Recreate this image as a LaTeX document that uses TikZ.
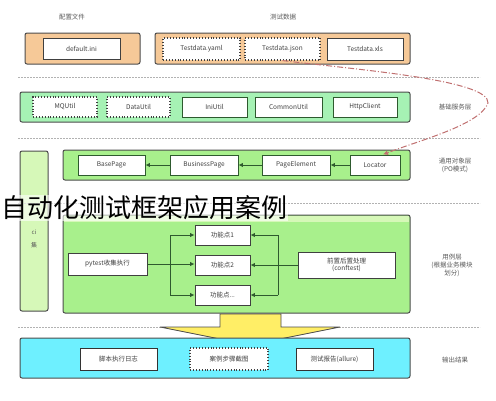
\documentclass[tikz,border=0pt]{standalone}
\usepackage{fontspec}
\setmainfont{Noto Sans CJK SC}
\usetikzlibrary{arrows.meta}
\definecolor{peach}{HTML}{F6C998}
\definecolor{mint}{HTML}{A6F2B4}
\definecolor{lime}{HTML}{A8F08C}
\definecolor{limelight}{HTML}{D6F8B8}
\definecolor{cyanbox}{HTML}{6EF0FF}
\definecolor{yel}{HTML}{FFEE66}
\definecolor{dgreen}{HTML}{2E5A2E}
\definecolor{redline}{HTML}{C07070}
\begin{document}
\begin{tikzpicture}[x=1pt,y=-1pt,
  outer/.style={draw=black!70, line width=1pt, rounded corners=2pt, inner sep=0pt},
  ibox/.style={draw=black!75, line width=0.9pt, fill=white, inner sep=0pt,
    font=\fontsize{6.5}{7.5}\selectfont, text=black!75, align=center},
  dotbox/.style={ibox, dotted, line width=1.1pt},
  lbl/.style={font=\fontsize{6.5}{8}\selectfont, text=black!65, align=center},
  sep/.style={draw=black!30, line width=0.6pt, dash pattern=on 2pt off 1pt},
  garrow/.style={draw=dgreen, line width=1pt, -{Latex[length=4.5pt,width=4.5pt]}},
  gline/.style={draw=dgreen, line width=1pt}
]
\useasboundingbox (0,0) rectangle (496,400);

% top labels
\node[lbl] (lcfg) at (72,17) {配置文件};
\node[lbl] (ldata) at (283,17) {测试数据};

% row 1
\node[outer, fill=peach, minimum width=115, minimum height=31] (o1) at (82.5,48.5) {};
\node[ibox, minimum width=77, minimum height=21] (ini) at (81.5,48.5) {default.ini};
\node[outer, fill=peach, minimum width=255, minimum height=31] (o2) at (282.5,48.5) {};
\node[dotbox, minimum width=77, minimum height=22] (yaml) at (201.5,49) {Testdata.yaml};
\node[dotbox, minimum width=75, minimum height=22] (json) at (282.5,49) {Testdata.json};
\node[ibox, minimum width=76, minimum height=22] (xls) at (365,49) {Testdata.xls};

\draw[sep] (18,77) -- (480,77);

% row 2
\node[outer, fill=mint, minimum width=390, minimum height=30] (o3) at (215,107) {};
\node[dotbox, minimum width=64, minimum height=20] (mq) at (65,107) {MQUtil};
\node[dotbox, minimum width=63, minimum height=20] (du) at (138.5,107) {DataUtil};
\node[ibox, draw=dgreen, minimum width=65, minimum height=20] (iu) at (214.5,107) {IniUtil};
\node[ibox, draw=dgreen, minimum width=67, minimum height=20] (cu) at (288.5,107) {CommonUtil};
\node[ibox, draw=dgreen, minimum width=64, minimum height=20] (hc) at (365,107) {HttpClient};
\node[lbl] (l2) at (455,107) {基础服务层};

\draw[sep] (18,138) -- (480,138);

% left tall box
\node[outer, fill=limelight, minimum width=28, minimum height=160] (ci) at (34,231) {};
\node[lbl, font=\fontsize{6}{13}\selectfont] (cit) at (34,239) {ci\\集};

% row 3
\node[outer, fill=lime, minimum width=347, minimum height=30] (o4) at (236.5,165) {};
\node[ibox, draw=dgreen, minimum width=67, minimum height=20] (bp) at (111.5,165) {BasePage};
\node[ibox, draw=dgreen, minimum width=68, minimum height=20] (bup) at (204,165) {BusinessPage};
\node[ibox, draw=dgreen, minimum width=68, minimum height=20] (pe) at (296,165) {PageElement};
\node[ibox, draw=dgreen, minimum width=50, minimum height=20] (loc) at (375,165) {Locator};
\draw[garrow] (loc) -- (pe);
\draw[garrow] (pe) -- (bup);
\draw[garrow] (bup) -- (bp);
\node[lbl] (l3) at (455,165) {通用对象层\\(PO模式)};

\draw[sep] (18,203) -- (480,203);

% big box
\node[outer, fill=lime, minimum width=347, minimum height=98] (o5) at (236.5,264) {};
\fill[limelight] (64,216) rectangle (409,222);
\node[ibox, minimum width=79, minimum height=22] (py) at (107.5,264) {pytest收集执行};
\node[ibox, minimum width=55, minimum height=20] (f1) at (222.5,235) {功能点1};
\node[ibox, minimum width=55, minimum height=20] (f2) at (222.5,265) {功能点2};
\node[ibox, minimum width=55, minimum height=20] (f3) at (222.5,295) {功能点...};
\node[ibox, minimum width=97, minimum height=26] (cf) at (346.5,265) {前置后置处理\\(conftest)};
\coordinate (lt) at (170,235);
\coordinate (lm) at (170,264);
\coordinate (lb) at (170,295);
\coordinate (rt) at (278,235);
\coordinate (rm) at (278,265);
\coordinate (rb) at (278,295);
\draw[gline] (py.east) -- (lm);
\draw[gline] (lt) -- (lb);
\draw[garrow] (lt) -- (f1.west);
\draw[garrow] (lm) -- (lm -| f2.west);
\draw[garrow] (lb) -- (f3.west);
\draw[gline] (cf.west) -- (rm);
\draw[gline] (rt) -- (rb);
\draw[garrow] (rt) -- (f1.east);
\draw[garrow] (rm) -- (f2.east);
\draw[garrow] (rb) -- (f3.east);
\node[lbl] (l4) at (452,265) {用例层\\(根据业务模块\\划分)};

\draw[sep] (18,327) -- (480,327);

% yellow arrow
\draw[fill=yel, draw=black!70, line width=0.8pt]
  (220,314) -- (281,314) -- (281,327) -- (340,327) -- (250,345) -- (160,327) -- (220,327) -- cycle;

% output row
\node[outer, fill=cyanbox, minimum width=390, minimum height=40] (o6) at (215,358) {};
\node[ibox, draw=black!80, minimum width=77, minimum height=22] (log) at (118.5,359) {脚本执行日志};
\node[dotbox, minimum width=78, minimum height=22] (shot) at (229,359) {案例步骤截图};
\node[ibox, draw=black!80, minimum width=77, minimum height=22] (rep) at (334.5,359) {测试报告(allure)};
\node[lbl] (l5) at (455,360) {输出结果};

% red dashed curve
\coordinate (rc) at (488,103);
\draw[redline, line width=1pt, dash pattern=on 6pt off 2pt on 1pt off 2pt, -{Latex[length=5pt,width=5pt]}]
  (json.south) .. controls (360,70) and (490,80) .. (rc)
  .. controls (480,125) and (420,140) .. ([xshift=8pt]loc.north);

% title overlay
\node[anchor=west, fill=white, fill opacity=0.6, text opacity=1, inner sep=1pt,
  font=\fontsize{26}{28}\selectfont] (title) at (0,208) {自动化测试框架应用案例};
\end{tikzpicture}
\end{document}
